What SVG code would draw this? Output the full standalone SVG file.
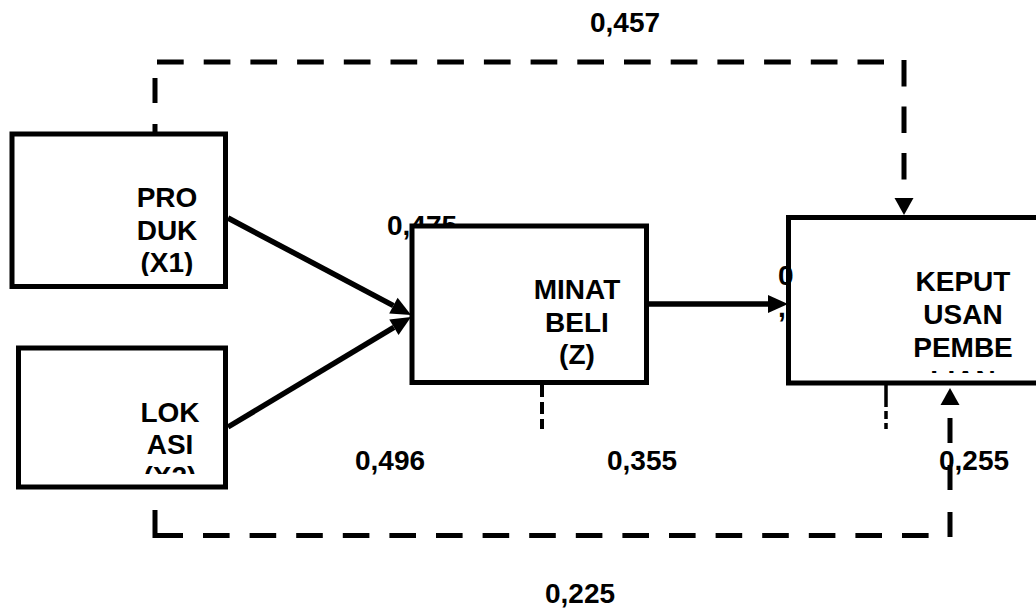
<svg xmlns="http://www.w3.org/2000/svg" width="1036" height="610" viewBox="0 0 1036 610">
<style>
.box{fill:#fff;stroke:#000;stroke-width:5}
.t{font-family:"Liberation Sans",Arial,sans-serif;font-weight:bold;font-size:28px;fill:#000}
.c{text-anchor:middle}
.arr{stroke:#000;stroke-width:5.5;fill:none}
.dash{stroke:#000;stroke-width:5;fill:none;stroke-dasharray:26.7 20}
.thin{stroke:#000;stroke-width:4;fill:none}
</style>
<defs>
<marker id="ah" markerUnits="userSpaceOnUse" markerWidth="22" markerHeight="20" viewBox="-1 -10 22 20" refX="0" refY="0" orient="auto">
<path d="M0,-9 L20,0 L0,9 Z" fill="#000"/>
</marker>
<marker id="av" markerUnits="userSpaceOnUse" markerWidth="19" markerHeight="21" viewBox="-1 -10.5 19 21" refX="0" refY="0" orient="auto">
<path d="M0,-9.5 L17,0 L0,9.5 Z" fill="#000"/>
</marker>
<clipPath id="cp1"><rect x="0" y="140" width="230" height="136"/></clipPath>
<clipPath id="cp2"><rect x="0" y="350" width="230" height="124"/></clipPath>
<clipPath id="cp3"><rect x="790" y="220" width="246" height="153"/></clipPath>
</defs>

<g id="labels-back">
<text class="t" x="387" y="235">0,475</text>
</g>

<g id="produk">
<rect class="box" x="12" y="134" width="213.5" height="152.5"/>
<text class="t c" clip-path="url(#cp1)"><tspan x="167" y="207">PRO</tspan><tspan x="167" y="239.5">DUK</tspan><tspan x="167" y="272">(X1)</tspan></text>
</g>

<g id="lokasi">
<rect class="box" x="18.5" y="348" width="207" height="139"/>
<text class="t c" clip-path="url(#cp2)"><tspan x="170" y="422">LOK</tspan><tspan x="170" y="454">ASI</tspan><tspan x="170" y="486">(X2)</tspan></text>
</g>

<g id="minat">
<rect class="box" x="412" y="226" width="234.5" height="156.5"/>
<text class="t c"><tspan x="577" y="299">MINAT</tspan><tspan x="577" y="331.5">BELI</tspan><tspan x="577" y="364">(Z)</tspan></text>
</g>

<g id="keputusan">
<rect class="box" x="788.5" y="217.5" width="300" height="165.5"/>
<text class="t c" clip-path="url(#cp3)"><tspan x="963" y="291">KEPUT</tspan><tspan x="963" y="324">USAN</tspan><tspan x="963" y="357">PEMBE</tspan><tspan x="963" y="390">LIAN</tspan></text>
</g>

<g id="labels">
<text class="t c" x="625" y="32">0,457</text>
<text class="t c" x="390" y="470">0,496</text>
<text class="t c" x="642" y="470">0,355</text>
<text class="t c" x="974" y="470">0,255</text>
<text class="t c" x="580" y="603">0,225</text>
<text class="t"><tspan x="778" y="285">0</tspan><tspan x="778" y="317">,</tspan></text>
</g>

<g id="connectors">
<line class="arr" x1="228" y1="218" x2="393.4" y2="305.6" marker-end="url(#ah)"/>
<line class="arr" x1="228" y1="427" x2="393.9" y2="327.3" marker-end="url(#ah)"/>
<line class="arr" x1="647" y1="304" x2="768" y2="304" marker-end="url(#ah)"/>
<line class="dash" x1="155" y1="78" x2="155" y2="133" style="stroke-dasharray:25 21"/>
<line class="dash" x1="157" y1="62" x2="884" y2="62"/>
<path class="dash" d="M904,60 V198" style="stroke-dasharray:26.5 20" marker-end="url(#av)"/>
<path d="M155,510 V535.5 H183" fill="none" stroke="#000" stroke-width="5"/>
<line class="dash" x1="203" y1="535.5" x2="930" y2="535.5" style="stroke-dasharray:26.6 20"/>
<path class="dash" d="M950,537 V405" style="stroke-dasharray:25 22" marker-end="url(#av)"/>
<line class="thin" x1="542" y1="385" x2="542" y2="429" style="stroke-dasharray:12 5"/>
<line class="thin" x1="886" y1="385" x2="886" y2="429" style="stroke-width:3.5;stroke-dasharray:22 4 8 4 6"/>
</g>
</svg>
